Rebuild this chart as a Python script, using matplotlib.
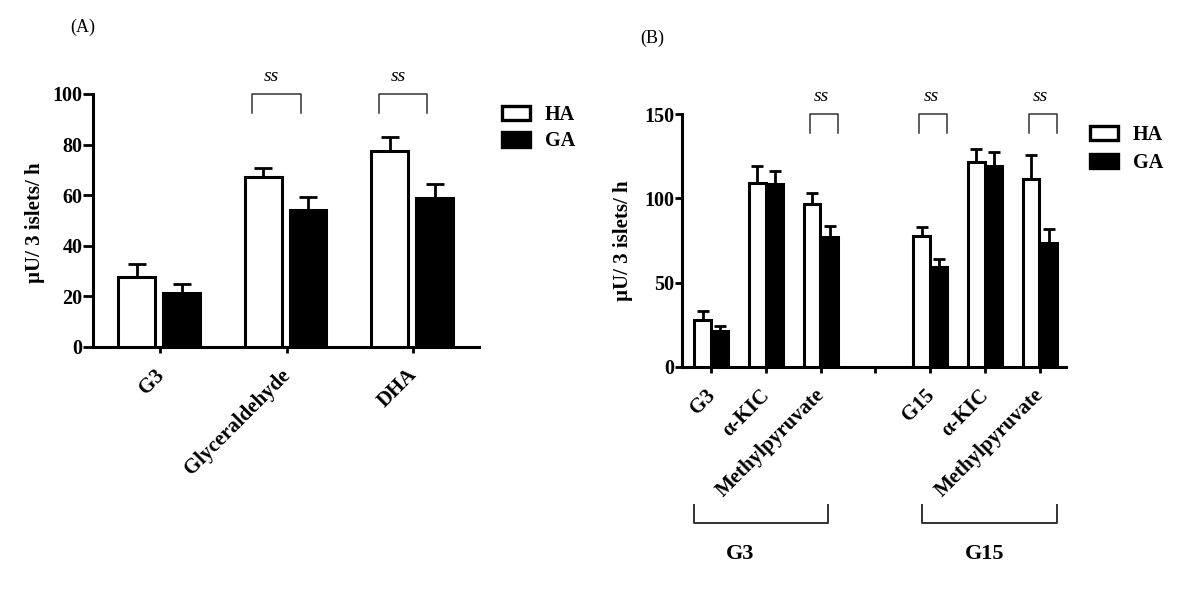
import matplotlib
matplotlib.use("Agg")
import matplotlib.pyplot as plt
import matplotlib.transforms as mtransforms
from matplotlib.patches import Patch
import numpy as np

plt.rcParams['font.family'] = ['Liberation Serif', 'DejaVu Serif']

# panel A
cats_a = ['G3', 'Glyceraldehyde', 'DHA']
ha_a = [27.7, 67.2, 77.5]
ha_a_err = [5.1, 3.6, 5.5]
ga_a = [21.3, 54.2, 58.9]
ga_a_err = [3.6, 5.1, 5.5]
sig_a = [1, 2]

# panel B (index 3 is the empty gap between G3 and G15 groups)
cats_b = ['G3', 'α-KIC', 'Methylpyruvate', '', 'G15', 'α-KIC', 'Methylpyruvate']
pos_b = [0, 1, 2, 4, 5, 6]
ha_b = [27.8, 109.1, 96.9, 77.4, 121.6, 111.7]
ha_b_err = [5.4, 9.9, 6.3, 5.5, 7.7, 14.0]
ga_b = [21.3, 108.5, 76.8, 59.2, 119.0, 73.8]
ga_b_err = [3.0, 7.9, 6.7, 4.9, 8.7, 8.3]
sig_b = [2, 4, 6]
groups_b = [('G3', -0.31, 2.13, 0.53), ('G15', 3.85, 6.31, 5.0)]

W, H = 1200, 593
fig = plt.figure(figsize=(12, 5.93), dpi=100)


def px_axes(l, r, b, t):
    return fig.add_axes([l / W, 1 - b / H, (r - l) / W, (b - t) / H])


def style(ax, ylen):
    for s in ['top', 'right']:
        ax.spines[s].set_visible(False)
    for s in ['left', 'bottom']:
        ax.spines[s].set_linewidth(2.2)
    ax.tick_params(axis='y', direction='out', length=ylen, width=2.0, labelsize=14.5, pad=0.5)
    ax.tick_params(axis='x', direction='out', length=4, width=2.0, pad=9)
    for lab in ax.get_yticklabels():
        lab.set_fontweight('bold')
    # rotated labels sit a little left of the anchor point in the original
    shift = mtransforms.ScaledTranslation(-6 / 100, 0, fig.dpi_scale_trans)
    for lab in ax.get_xticklabels():
        lab.set_transform(lab.get_transform() + shift)


def bars(ax, x, ha, ha_e, ga, ga_e, w, off_h, off_g, cap):
    x = np.asarray(x, dtype=float)
    ax.bar(x + off_h, ha, w, color='white', edgecolor='black', linewidth=2.2, zorder=3)
    ax.bar(x + off_g, ga, w, color='black', edgecolor='black', linewidth=2.2, zorder=3)
    ax.errorbar(x + off_h, ha, yerr=[np.zeros(len(ha)), ha_e], fmt='none',
                ecolor='black', elinewidth=2.0, capsize=cap, capthick=2.0, zorder=2)
    ax.errorbar(x + off_g, ga, yerr=[np.zeros(len(ga)), ga_e], fmt='none',
                ecolor='black', elinewidth=2.0, capsize=cap, capthick=2.0, zorder=2)


def sig(ax, x, lo, hi, top, bot, ty):
    ax.plot([x + lo, x + lo, x + hi, x + hi], [bot, top, top, bot],
            color='#333333', lw=1.1, clip_on=False)
    ax.text(x + (lo + hi) / 2 - 0.04, ty, 'ss', style='italic', fontsize=14,
            ha='center', va='center')


def legend(ax, anchor, spacing):
    ax.legend(handles=[Patch(facecolor='white', edgecolor='black', linewidth=2.4, label='HA'),
                       Patch(facecolor='black', edgecolor='black', linewidth=2.4, label='GA')],
              loc='upper left', bbox_to_anchor=anchor, frameon=False,
              prop={'weight': 'bold', 'size': 14.5}, handlelength=1.38, handleheight=0.72,
              handletextpad=0.75, labelspacing=spacing, borderpad=0)


# ---------------- panel A
ax1 = px_axes(93, 479, 347, 94)
bars(ax1, range(3), ha_a, ha_a_err, ga_a, ga_a_err, 0.29, -0.185, 0.17, 6.5)
ax1.set_xlim(-0.53, 2.52)
ax1.set_ylim(0, 100)
ax1.set_yticks([0, 20, 40, 60, 80, 100])
ax1.set_xticks(range(3))
ax1.set_xticklabels(cats_a, rotation=45, ha='right', va='top',
                    rotation_mode='anchor', fontweight='bold', fontsize=15)
style(ax1, 7)
ax1.set_ylabel('µU/ 3 islets/ h', fontsize=15, fontweight='bold')
ax1.yaxis.set_label_coords(-0.124, 0.49)
for i in sig_a:
    sig(ax1, i, -0.27, 0.11, 100, 92.5, 107)
legend(ax1, (1.034, 0.995), 0.3)
fig.text(83 / W, 1 - 27 / H, '(A)', fontsize=13, ha='center', va='center')

# ---------------- panel B
ax2 = px_axes(682, 1066, 367, 114)
bars(ax2, pos_b, ha_b, ha_b_err, ga_b, ga_b_err, 0.3, -0.155, 0.165, 4)
ax2.set_xlim(-0.53, 6.48)
ax2.set_ylim(0, 150)
ax2.set_yticks([0, 50, 100, 150])
ax2.set_xticks(range(len(cats_b)))
ax2.set_xticklabels(cats_b, rotation=45, ha='right', va='top',
                    rotation_mode='anchor', fontweight='bold', fontsize=15)
style(ax2, 5)
ax2.set_ylabel('µU/ 3 islets/ h', fontsize=15, fontweight='bold')
ax2.yaxis.set_label_coords(-0.128, 0.50)
for i in sig_b:
    sig(ax2, i, -0.2, 0.31, 150, 138.7, 160.4)
legend(ax2, (1.037, 0.997), 0.4)
fig.text(652 / W, 1 - 38 / H, '(B)', fontsize=13, ha='center', va='center')

trans = mtransforms.blended_transform_factory(ax2.transData, ax2.transAxes)
for name, x0, x1, xl in groups_b:
    ax2.plot([x0, x0, x1, x1], [-0.545, -0.617, -0.617, -0.545], color='#333333',
             lw=1.4, transform=trans, clip_on=False)
    ax2.text(xl, -0.739, name, transform=trans, fontsize=16, fontweight='bold',
             ha='center', va='center')

fig.savefig('out.png', dpi=100)
